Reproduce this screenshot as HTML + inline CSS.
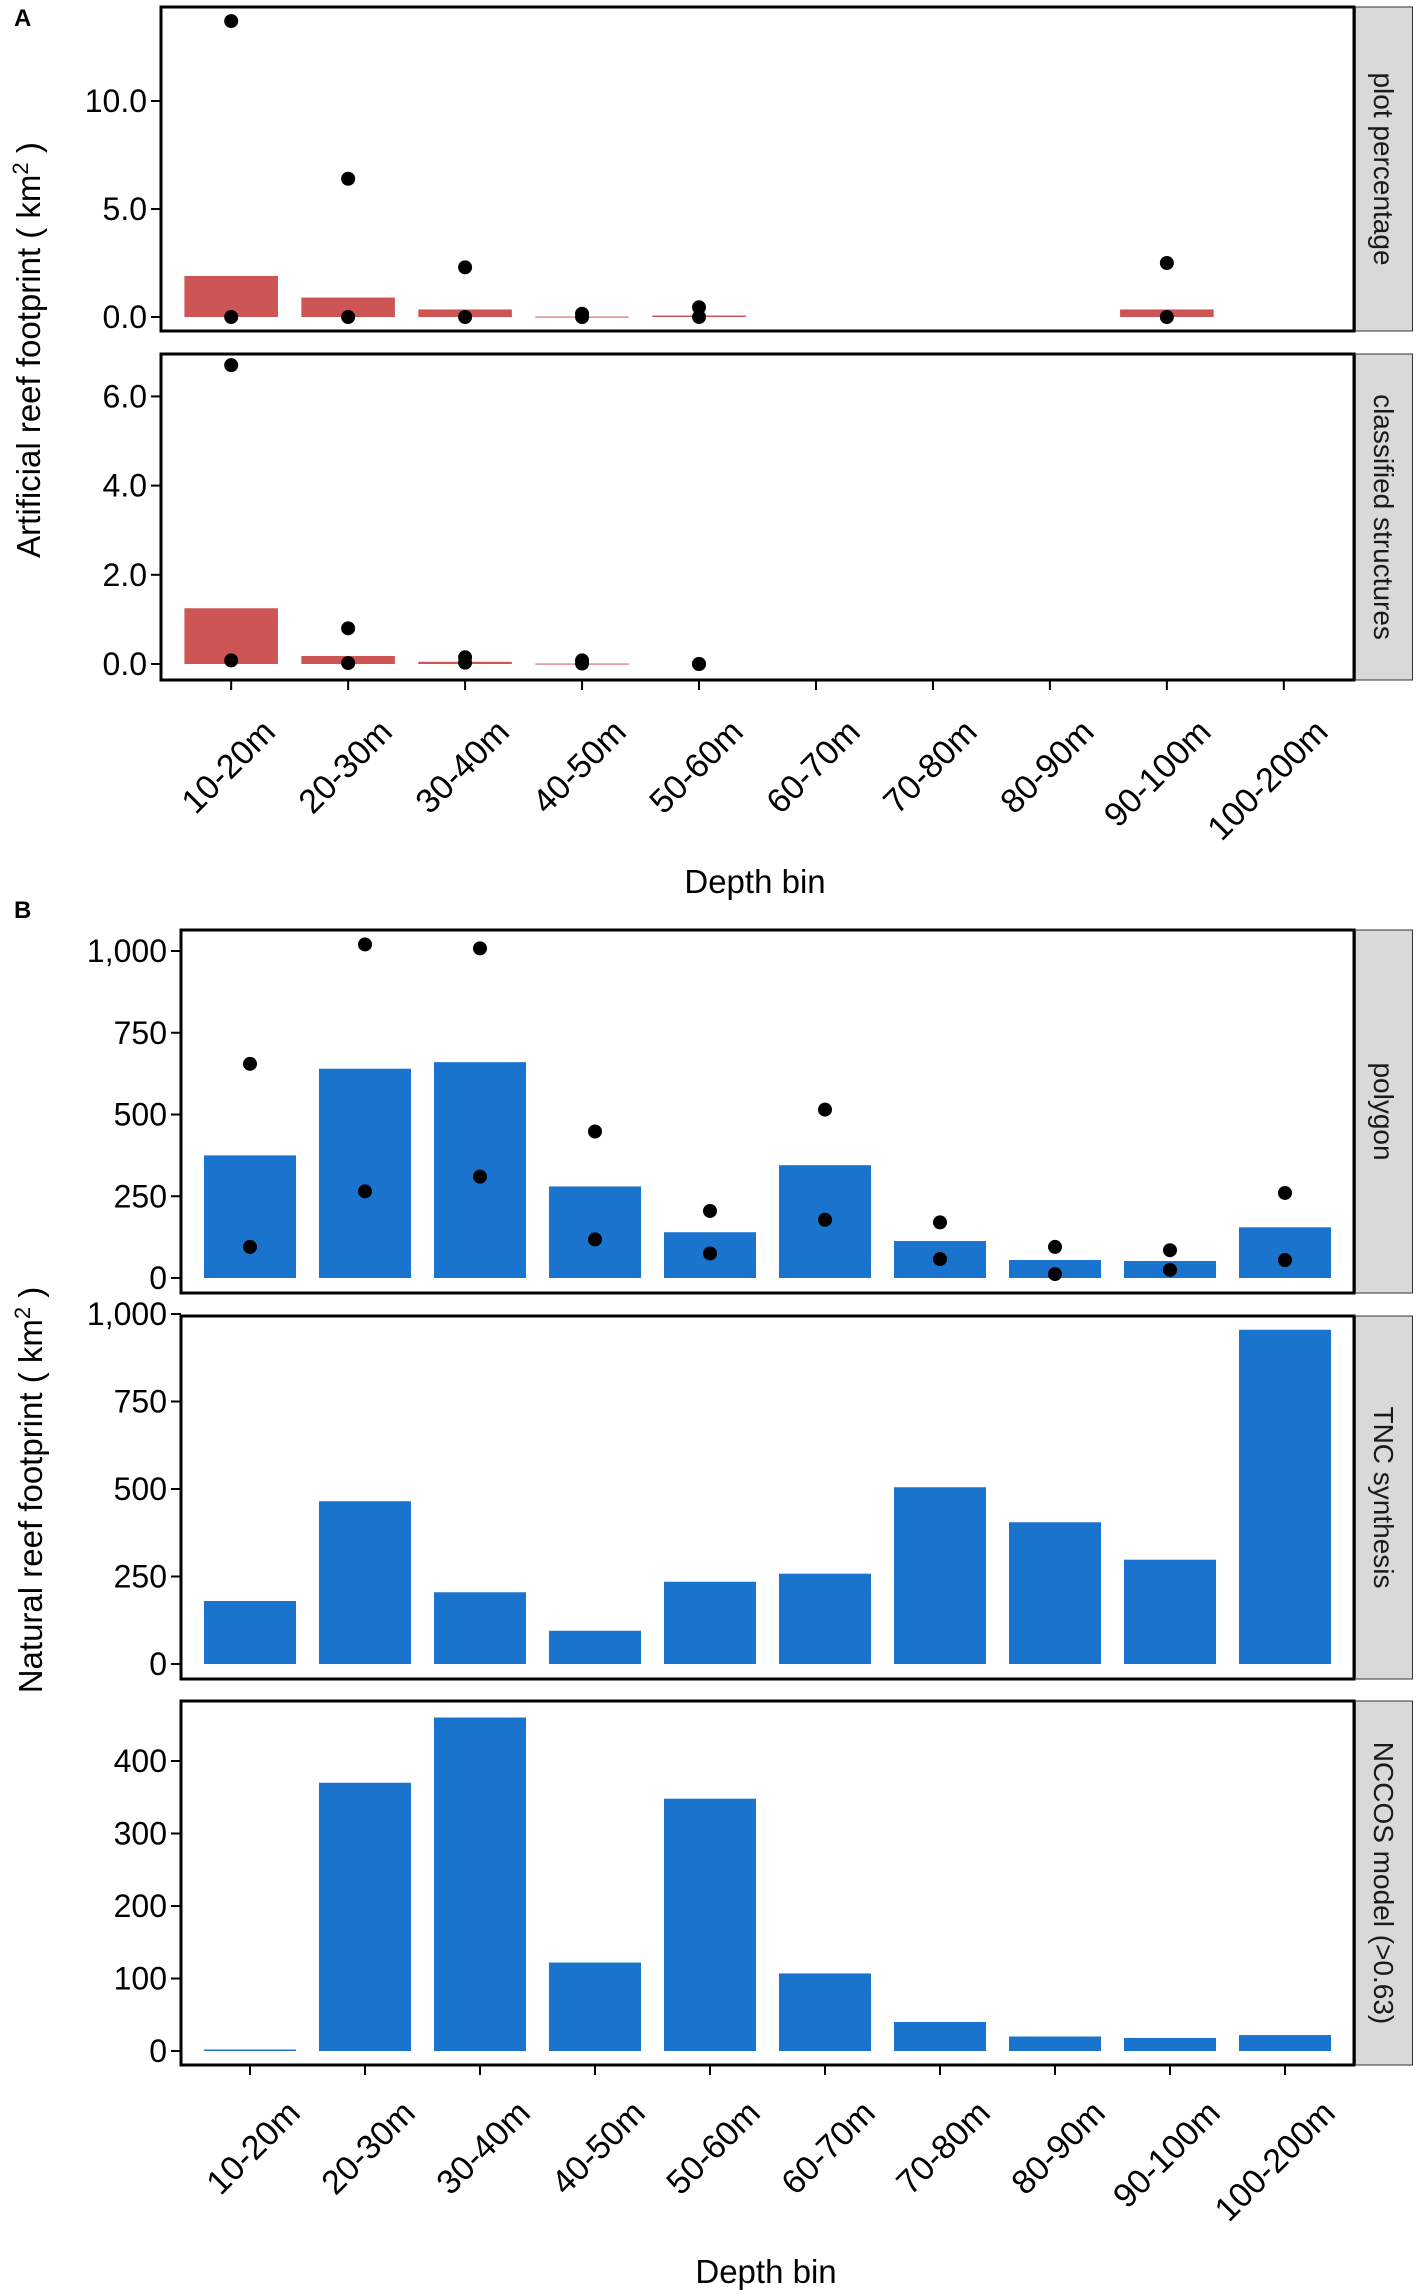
<!DOCTYPE html>
<html><head><meta charset="utf-8"><style>
body{margin:0;background:#fff}
svg{display:block;font-family:"Liberation Sans",Arial,sans-serif}
</style></head><body>
<svg id="chart" width="1417" height="2290" viewBox="0 0 1417 2290" xmlns="http://www.w3.org/2000/svg">
<text x="14" y="26" font-size="24" font-weight="bold">A</text>
<text x="14" y="918" font-size="24" font-weight="bold">B</text>
<text transform="translate(40,350) rotate(-90)" text-anchor="middle" font-size="33">Artificial reef footprint ( km<tspan dy="-12" font-size="22">2</tspan><tspan dy="12"> )</tspan></text>
<text transform="translate(42,1490) rotate(-90)" text-anchor="middle" font-size="33">Natural reef footprint ( km<tspan dy="-12" font-size="22">2</tspan><tspan dy="12"> )</tspan></text>
<text x="755" y="893" text-anchor="middle" font-size="33">Depth bin</text>
<text x="766" y="2283" text-anchor="middle" font-size="33">Depth bin</text>
</svg>
<script>
const categories = ["10-20m","20-30m","30-40m","40-50m","50-60m","60-70m","70-80m","80-90m","90-100m","100-200m"];
const plotPctBars = [1.9,0.9,0.35,0.02,0.07,0,0,0,0.35,0];
const plotPctHigh = [13.7,6.4,2.3,0.15,0.45,null,null,null,2.5,null];
const plotPctLow = [0,0,0,0,0,null,null,null,0,null];
const classBars = [1.25,0.18,0.05,0.01,0,0,0,0,0,0];
const classHigh = [6.7,0.8,0.15,0.08,0,null,null,null,null,null];
const classLow = [0.08,0.02,0.03,0.01,0,null,null,null,null,null];
const polyBars = [375,640,660,280,140,345,113,55,52,155];
const polyHigh = [655,1020,1008,448,205,515,170,95,85,260];
const polyLow = [95,265,310,118,75,178,58,12,25,55];
const tncBars = [180,465,205,95,235,258,505,405,298,955];
const nccosBars = [2,370,460,122,348,107,40,20,18,22];
const ticksA1 = [0,5,10]; const ticksA1Labels = ["0.0","5.0","10.0"];
const ticksA2 = [0,2,4,6]; const ticksA2Labels = ["0.0","2.0","4.0","6.0"];
const ticksB1 = [0,250,500,750,1000]; const ticksB1Labels = ["0","250","500","750","1,000"];
const ticksB3 = [0,100,200,300,400]; const ticksB3Labels = ["0","100","200","300","400"];

const svg = document.getElementById('chart');
const NS = "http://www.w3.org/2000/svg";
function mk(tag, attrs, parent){const e=document.createElementNS(NS,tag);for(const k in attrs)e.setAttribute(k,attrs[k]);(parent||svg).appendChild(e);return e;}

function panel(cfg){
  const g = mk('g',{});
  
  
  const {x0,x1,y0,y1,zeroY,unitPx,color} = cfg;
  const step = (x1-x0)/10.2;
  const xc = i => x0 + step*(0.6+i);
  const y = v => zeroY - v*unitPx;
  cfg.bars.forEach((v,i)=>{
    if(v<=0) return;
    const r = mk('rect',{x:xc(i)-step*0.4,y:y(v),width:step*0.8,height:Math.max(zeroY-y(v),1),fill:color},g);
    
    
  });
  [cfg.high,cfg.low].forEach(arr=>{ if(!arr) return; arr.forEach((v,i)=>{
    if(v===null) return;
    const c = mk('circle',{cx:xc(i),cy:y(v),r:7,fill:'#000'},g);
    
    
  });});
  const f = mk('rect',{x:x0,y:y0,width:x1-x0,height:y1-y0,fill:'none',stroke:'#000','stroke-width':3},g);
  
  
  const s = mk('rect',{x:x1+1.5,y:y0,width:57,height:y1-y0,fill:'#d9d9d9',stroke:'#333','stroke-width':1},g);
  
  
  const st = mk('text',{transform:`translate(${x1+20},${(y0+y1)/2}) rotate(90)`,'text-anchor':'middle','font-size':28,fill:'#1a1a1a'},g);
  st.textContent = cfg.strip;
  
  
  cfg.ticks.forEach((t,i)=>{
    mk('line',{x1:x0-10,x2:x0,y1:y(t),y2:y(t),stroke:'#000','stroke-width':2},g);
    const tl = mk('text',{x:x0-14,y:y(t)+11,'text-anchor':'end','font-size':32},g);
    tl.textContent = cfg.tickLabels[i];
    
    
  });
  if(cfg.xlab){
    categories.forEach((c,i)=>{
      mk('line',{x1:xc(i),x2:xc(i),y1:y1,y2:y1+10,stroke:'#000','stroke-width':2},g);
      const xl = mk('text',{transform:`translate(${xc(i)+cfg.xlabDx},${y1+cfg.xlabDy}) rotate(-45)`,'text-anchor':'end','font-size':34},g);
      xl.textContent = c;
      
      
    });
  }
}
const red='#cd5555', blue='#1a73cc';
panel({name:'panel-plot-percentage',x0:161,x1:1354,y0:7,y1:331,zeroY:317,unitPx:21.6,color:red,bars:plotPctBars,high:plotPctHigh,low:plotPctLow,ticks:ticksA1,tickLabels:ticksA1Labels,strip:'plot percentage'});
panel({name:'panel-classified-structures',x0:161,x1:1354,y0:354,y1:680,zeroY:664,unitPx:44.6,color:red,bars:classBars,high:classHigh,low:classLow,ticks:ticksA2,tickLabels:ticksA2Labels,strip:'classified structures',xlab:true,xlabDx:46,xlabDy:54});
panel({name:'panel-polygon',x0:181,x1:1354,y0:930,y1:1293,zeroY:1278,unitPx:0.327,color:blue,bars:polyBars,high:polyHigh,low:polyLow,ticks:ticksB1,tickLabels:ticksB1Labels,strip:'polygon'});
panel({name:'panel-tnc-synthesis',x0:181,x1:1354,y0:1316,y1:1679,zeroY:1664,unitPx:0.35,color:blue,bars:tncBars,ticks:ticksB1,tickLabels:ticksB1Labels,strip:'TNC synthesis'});
panel({name:'panel-nccos-model',x0:181,x1:1354,y0:1701,y1:2065,zeroY:2051,unitPx:0.725,color:blue,bars:nccosBars,ticks:ticksB3,tickLabels:ticksB3Labels,strip:'NCCOS model (>0.63)',xlab:true,xlabDx:52,xlabDy:50});
</script>
</body></html>
